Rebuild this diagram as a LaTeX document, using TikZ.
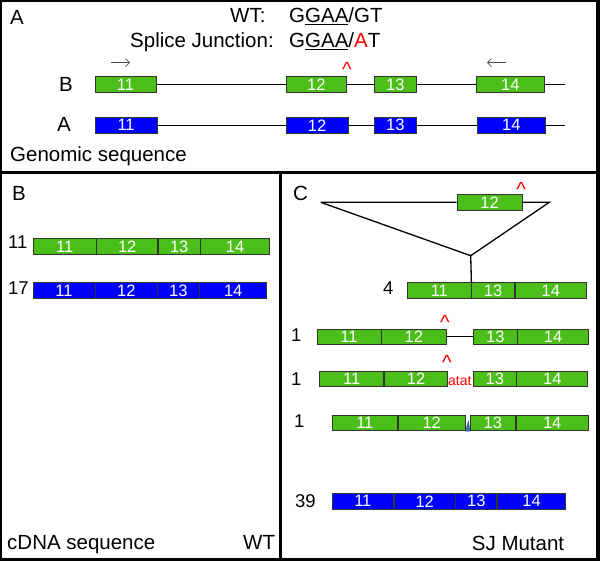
\documentclass[tikz,border=0pt]{standalone}
\usepackage{fontspec}
\setmainfont{Liberation Sans}
\usetikzlibrary{positioning,arrows.meta}
\definecolor{exgreen}{RGB}{76,190,26}
\definecolor{exblue}{RGB}{0,0,255}
\definecolor{tipblue}{RGB}{70,110,190}
\newcommand{\lbltxt}{\fontsize{20.5}{24}\selectfont}
\newcommand{\cnttxt}{\fontsize{18.5}{22}\selectfont}
\newcommand{\extxt}{\fontsize{16.5}{19}\selectfont}
\tikzset{
  exon/.style={draw=black!80, line width=0.7pt, text=white, font=\extxt,
    inner sep=0pt, minimum height=15.6pt, anchor=west},
  gex/.style={exon, fill=exgreen},
  bex/.style={exon, fill=exblue},
  lbl/.style={font=\lbltxt, inner sep=0pt, anchor=base west},
  cnt/.style={font=\cnttxt, inner sep=0pt, anchor=base west},
  hat/.style={font=\lbltxt, text=red, inner sep=0pt},
  intron/.style={line width=1.1pt},
  primer/.style={-{Straight Barb[length=4pt, width=8pt]}, gray!60!black, line width=0.7pt},
}

\begin{document}
\begin{tikzpicture}[x=1pt, y=-1pt]
    \useasboundingbox (0,0) rectangle (600,561);
    \fill[black] (0,0) rectangle (600,561);
    \fill[white] (2,2) rectangle (596,171);
    \fill[white] (2,174.5) rectangle (279.3,558);
    \fill[white] (282.3,174.5) rectangle (596,558);

    % panel A: genomic sequence
    \node[lbl] (pa) at (10,25) {A};
    \node[lbl] (wt) at (230,22.7) {WT:};
    \node[lbl] (wtseq) at (289,22.7) {G\underline{GAA}/GT};
    \node[lbl] (sj) at (130,48) {Splice Junction:};
    \node[lbl] (sjseq) at (289,48) {G\underline{GAA}/\textcolor{red}{A}T};
    \coordinate (fw0) at (111,62.7);
    \coordinate (fw1) at (130,62.7);
    \coordinate (rv0) at (506,62.7);
    \coordinate (rv1) at (487,62.7);
    \draw[primer] (fw0) -- (fw1);
    \draw[primer] (rv0) -- (rv1);
    \node[hat] (hatA) at (347,69.9) {\textasciicircum};

    \node[lbl] (rowB) at (59,92) {B};
    \node[gex, minimum width=61.3pt] (gb11) at (94.5,84.5) {11};
    \node[gex, minimum width=60pt] (gb12) at (286,84.5) {12};
    \node[gex, minimum width=42pt] (gb13) at (374,84.5) {13};
    \node[gex, minimum width=68pt] (gb14) at (476,84.5) {14};
    \coordinate (gbend) at (565,84.5);
    \draw[intron] (gb11) -- (gb12) (gb12) -- (gb13) (gb13) -- (gb14) (gb14) -- (gbend);

    \node[lbl] (rowA) at (57,132) {A};
    \node[bex, minimum width=62.5pt] (ba11) at (94.5,125.3) {11};
    \node[bex, minimum width=61.5pt] (ba12) at (286,125.3) {12};
    \node[bex, minimum width=42pt] (ba13) at (374,125.3) {13};
    \node[bex, minimum width=68pt] (ba14) at (477,125.3) {14};
    \coordinate (baend) at (565,125.3);
    \draw[intron] (ba11) -- (ba12) (ba12) -- (ba13) (ba13) -- (ba14) (ba14) -- (baend);

    \node[lbl] (gen) at (10,161.4) {Genomic sequence};

    % panel B: cDNA, WT
    \node[lbl] (pb) at (12,201) {B};
    \node[cnt] (n11) at (8,248.5) {11};
    \node[gex, minimum width=62.7pt] (w11) at (33,246.5) {11};
    \node[gex, minimum width=61pt, right=0pt of w11] (w12) {12};
    \node[gex, minimum width=41.6pt, right=0pt of w12] (w13) {13};
    \node[gex, minimum width=68.7pt, right=0pt of w13] (w14) {14};
    \node[cnt] (n17) at (8,295) {17};
    \node[bex, minimum width=62pt] (v11) at (32.7,290.5) {11};
    \node[bex, minimum width=61.3pt, right=0pt of v11] (v12) {12};
    \node[bex, minimum width=41.3pt, right=0pt of v12] (v13) {13};
    \node[bex, minimum width=67pt, right=0pt of v13] (v14) {14};
    \node[lbl] (cdna) at (7,549.7) {cDNA sequence};
    \node[lbl] (wtB) at (243,549.7) {WT};

    % panel C: cDNA, SJ mutant
    \node[lbl] (pc) at (293,201) {C};
    \coordinate (tl) at (320.7,202.3);
    \coordinate (tr) at (549.3,202.3);
    \coordinate (tv) at (470.7,255.7);
    \node[gex, minimum width=65pt] (t12) at (456.7,202.3) {12};
    \node[hat] (hatT) at (521.3,189.9) {\textasciicircum};
    \draw[line width=1.3pt] (tl) -- (t12) (t12) -- (tr) -- (tv) -- (tl);

    \node[cnt] (n4) at (383,295) {4};
    \node[gex, minimum width=63.4pt] (c11) at (407.3,290.5) {11};
    \node[gex, minimum width=42.6pt, right=0pt of c11] (c13) {13};
    \node[gex, minimum width=71.7pt, right=0pt of c13] (c14) {14};
    \draw[line width=1.3pt] (tv) -- (c11.north east);

    \node[cnt] (n1a) at (291,342) {1};
    \node[hat] (hat1) at (445,322.4) {\textasciicircum};
    \node[gex, minimum width=64pt] (d11) at (316.7,336.7) {11};
    \node[gex, minimum width=64.3pt, right=0pt of d11] (d12) {12};
    \node[gex, minimum width=43.4pt] (d13) at (473.3,336.7) {13};
    \node[gex, minimum width=70.6pt, right=0pt of d13] (d14) {14};
    \draw[intron] (d12) -- (d13);

    \node[cnt] (n1b) at (291,385) {1};
    \node[hat] (hat2) at (447,362.4) {\textasciicircum};
    \node[gex, minimum width=64pt] (e11) at (319.3,378.7) {11};
    \node[gex, minimum width=63.4pt, right=0pt of e11] (e12) {12};
    \node[font=\fontsize{14}{17}\selectfont, text=red, inner sep=0pt, anchor=base west] (atat) at (448,385) {atat};
    \node[gex, minimum width=42.4pt] (e13) at (473.3,378.7) {13};
    \node[gex, minimum width=71pt, right=0pt of e13] (e14) {14};

    \node[cnt] (n1c) at (294,428) {1};
    \node[gex, minimum width=65.6pt] (f11) at (331.7,423) {11};
    \node[gex, minimum width=66.7pt, right=0pt of f11] (f12) {12};
    \node[gex, minimum width=45pt] (f13) at (470,423) {13};
    \node[gex, minimum width=72.3pt, right=0pt of f13] (f14) {14};
    \filldraw[fill=tipblue, draw=tipblue!60!black, line width=0.4pt]
      (f12.south east) -- ++(3,-10) -- (f13.south west) -- cycle;

    \node[cnt] (n39) at (295,507) {39};
    \node[bex, minimum width=61.6pt] (g11) at (331.7,501.3) {11};
    \node[bex, minimum width=60.7pt, right=0pt of g11] (g12) {12};
    \node[bex, minimum width=41pt, right=0pt of g12] (g13) {13};
    \node[bex, minimum width=68.3pt, right=0pt of g13] (g14) {14};

    \node[lbl] (sjm) at (471.7,550) {SJ Mutant};
\end{tikzpicture}
\end{document}
